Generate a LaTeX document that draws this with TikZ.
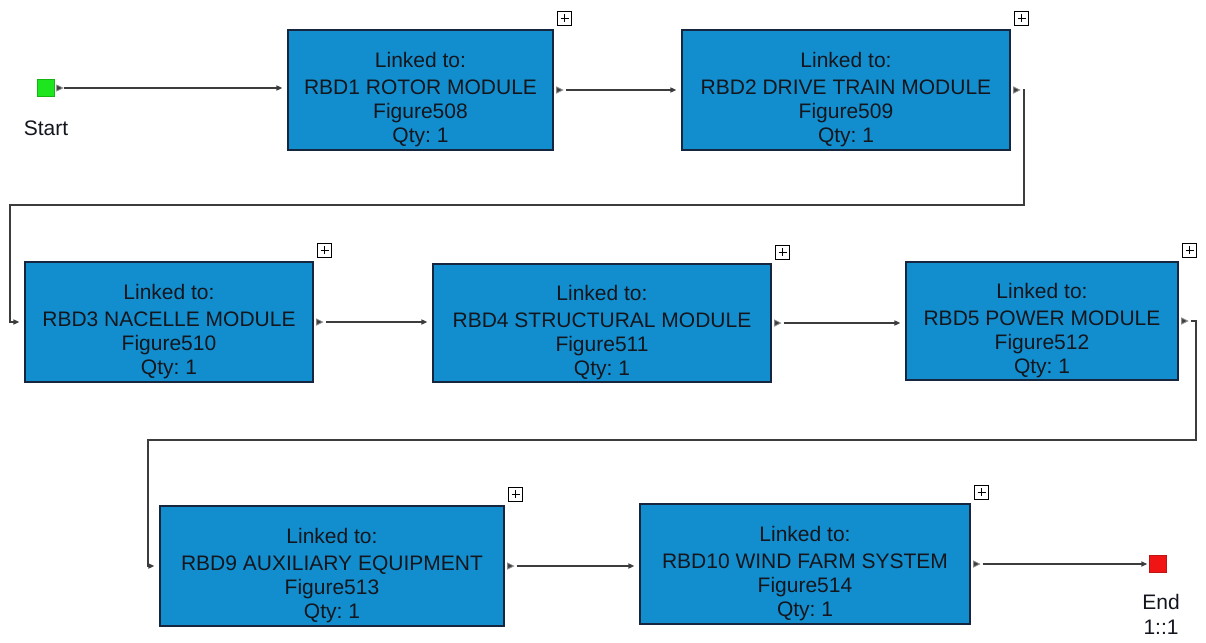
\documentclass[tikz,border=0pt]{standalone}
\usepackage{fontspec}
\setmainfont{Liberation Sans}
\frenchspacing
\usetikzlibrary{arrows.meta,calc}
\definecolor{boxblue}{RGB}{18,142,206}
\definecolor{boxedge}{RGB}{22,38,62}
\definecolor{linegray}{RGB}{60,60,60}
\definecolor{txt}{RGB}{20,22,30}
\tikzset{
  blk/.style={draw=boxedge, line width=1.2pt, fill=boxblue, inner sep=0pt},
  blktext/.style={align=center, text=txt, font=\fontsize{21}{24}\selectfont, inner sep=0pt},
  conn/.style={draw=linegray, line width=1.5pt, -{Triangle[open,length=6pt,width=5pt]}, shorten >=5pt},
  plusbox/.style={draw=black, line width=1.2pt, fill=white, minimum size=14pt, inner sep=0pt},
  lbl/.style={text=txt, font=\fontsize{21}{25}\selectfont, inner sep=0pt},
}
\newcommand{\portmark}[1]{\draw[linegray!60, line width=0.8pt, fill=linegray] ($(#1.east)+(3,-3)$) -- ++(6,3) -- ++(-6,3) -- cycle;}
\newcommand{\plusmark}[2]{\node[plusbox] (#2) at ($(#1.north east)+(11,-11)$) {};
  \draw[black, line width=1pt] ($(#2.center)+(-4,0)$) -- ($(#2.center)+(4,0)$) ($(#2.center)+(0,-4)$) -- ($(#2.center)+(0,4)$);}
\newcommand{\blocktext}[3]{\node[blktext] (#1t) at ($(#1.center)+(0,10)$) {Linked to:\\[3pt]#2\\Figure#3\\Qty: 1};}
\begin{document}
\begin{tikzpicture}[x=1pt,y=-1pt]
\useasboundingbox (0,0) rectangle (1206,642);
% start / end
\node[fill={rgb,255:red,30;green,230;blue,30}, draw={rgb,255:red,20;green,180;blue,20}, minimum size=17pt, inner sep=0pt] (start) at (46,88) {};
\node[lbl] (startlbl) at (46,128) {Start};
\node[fill={rgb,255:red,240;green,20;blue,20}, draw={rgb,255:red,190;green,20;blue,20}, minimum size=17pt, inner sep=0pt] (end) at (1158,564) {};
\node[lbl] (endlbl) at (1161,602) {End};
\node[lbl] (endlbl2) at (1161,627) {1::1};
% blocks
\node[blk, minimum width=265pt, minimum height=120pt] (b1) at (420.5,90) {};
\node[blk, minimum width=328pt, minimum height=120pt] (b2) at (846,90) {};
\node[blk, minimum width=288pt, minimum height=120pt] (b3) at (169,322) {};
\node[blk, minimum width=338pt, minimum height=118pt] (b4) at (602,323) {};
\node[blk, minimum width=272pt, minimum height=118pt] (b5) at (1042,321) {};
\node[blk, minimum width=344pt, minimum height=120pt] (b6) at (332,566) {};
\node[blk, minimum width=330pt, minimum height=120pt] (b7) at (805,564) {};
\blocktext{b1}{RBD1 ROTOR MODULE}{508}
\blocktext{b2}{RBD2 DRIVE TRAIN MODULE}{509}
\blocktext{b3}{RBD3 NACELLE MODULE}{510}
\blocktext{b4}{RBD4 STRUCTURAL MODULE}{511}
\blocktext{b5}{RBD5 POWER MODULE}{512}
\blocktext{b6}{RBD9 AUXILIARY EQUIPMENT}{513}
\blocktext{b7}{RBD10 WIND FARM SYSTEM}{514}
% plus boxes
\plusmark{b1}{p1}
\plusmark{b2}{p2}
\plusmark{b3}{p3}
\plusmark{b4}{p4}
\plusmark{b5}{p5}
\plusmark{b6}{p6}
\plusmark{b7}{p7}
% port marks
\draw[linegray!60, line width=0.8pt, fill=linegray] ($(start.east)+(2,-3)$) -- ++(6,3) -- ++(-6,3) -- cycle;
\portmark{b1}
\portmark{b2}
\portmark{b3}
\portmark{b4}
\portmark{b5}
\portmark{b6}
\portmark{b7}
% connectors
\coordinate (t1) at (1024,205);
\coordinate (t2) at (10,205);
\coordinate (u1) at (1196,440);
\coordinate (u2) at (148,440);
\draw[conn, shorten <=9pt] (start.east) -- (start.east -| b1.west);
\draw[conn, shorten <=12pt] (b1.east) -- (b1.east -| b2.west);
\draw[conn] ([xshift=12pt]b2.east) -| (t1) -- (t2) |- (b3.west);
\draw[conn, shorten <=12pt] (b3.east) -- (b3.east -| b4.west);
\draw[conn, shorten <=12pt] (b4.east) -- (b4.east -| b5.west);
\draw[conn] ([xshift=12pt]b5.east) -| (u1) -- (u2) |- (b6.west);
\draw[conn, shorten <=12pt] (b6.east) -- (b6.east -| b7.west);
\draw[conn, shorten <=12pt, shorten >=2pt] (b7.east) -- (b7.east -| end.west);
\end{tikzpicture}
\end{document}
